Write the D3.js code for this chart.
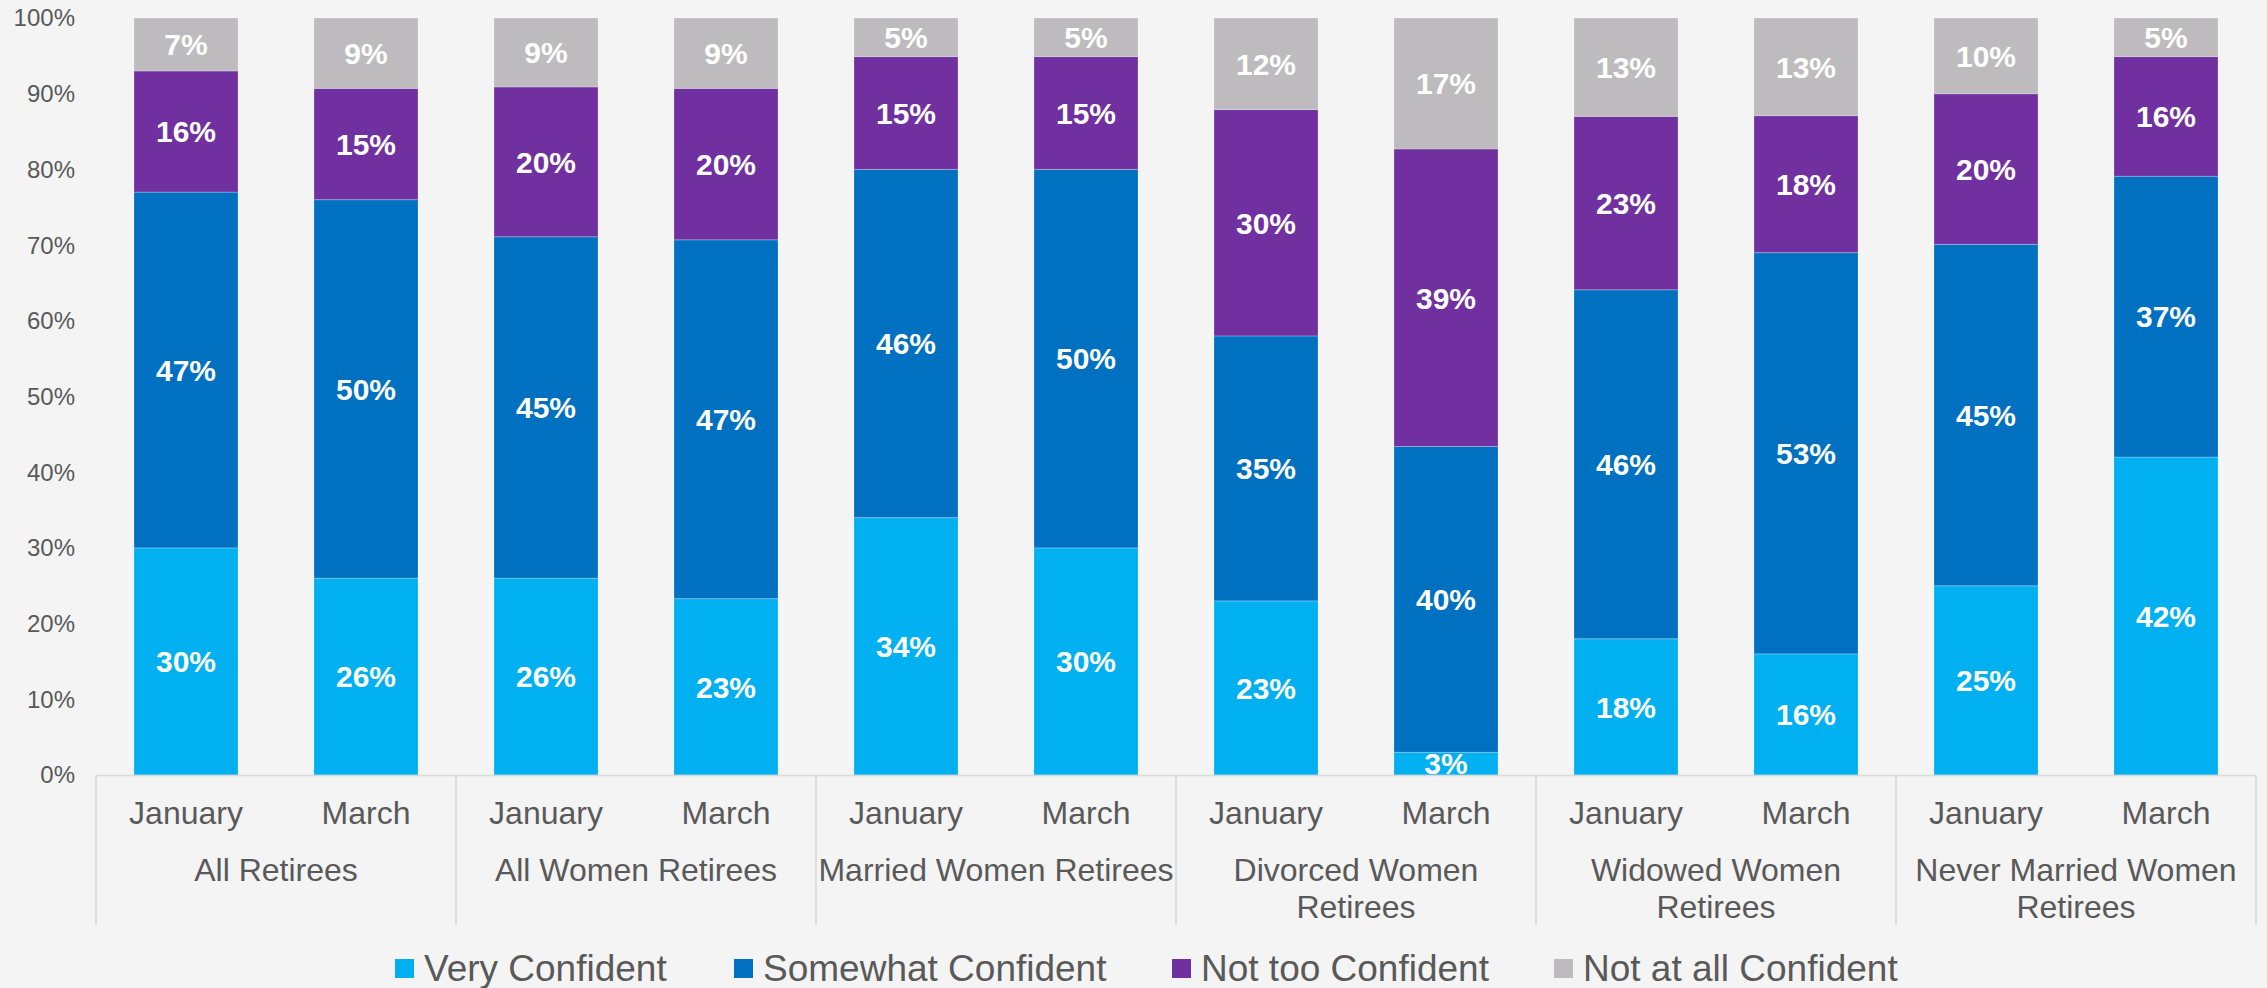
<!DOCTYPE html>
<html>
<head>
<meta charset="utf-8">
<script src="https://cdn.jsdelivr.net/npm/d3@7"></script>
<style>
  html, body { margin: 0; padding: 0; background: #F4F4F4; }
  svg { display: block; font-family: "Liberation Sans", Arial, sans-serif; }
</style>
</head>
<body>
<svg id="chart" width="2267" height="988"></svg>
<script>
// ---- Data ----
const groups = [
  ["All Retirees"],
  ["All Women Retirees"],
  ["Married Women Retirees"],
  ["Divorced Women", "Retirees"],
  ["Widowed Women", "Retirees"],
  ["Never Married Women", "Retirees"]
];
const months = ["January", "March"];
const seriesNames = ["Very Confident", "Somewhat Confident", "Not too Confident", "Not at all Confident"];
const seriesColors = ["#00B0F0", "#0070C0", "#7030A0", "#BDBBBE"];
// values in %, order: [group][month] flattened (12 bars)
const veryConfident     = [30, 26, 26, 23.3, 34, 30, 23.0, 3.0, 18.0, 16.0, 25.0, 42.0];
const somewhatConfident = [47, 50, 45.1, 47.4, 46, 50, 35.0, 40.4, 46.1, 53.0, 45.1, 37.1];
const notTooConfident   = [16, 14.7, 19.8, 20.0, 14.9, 14.9, 29.9, 39.3, 22.9, 18.1, 19.9, 15.8];
const notAtAllConfident = [7, 9.3, 9.1, 9.3, 5.1, 5.1, 12.1, 17.3, 13.0, 12.9, 10.0, 5.1];
const yTicks = [0, 10, 20, 30, 40, 50, 60, 70, 80, 90, 100];

(function () {
// ---- Layout ----
const svg = d3.select("#chart");
const left = 96, right = 2256, plotTop = 18, bottom = 775;
const textColor = "#595959";
const axisColor = "#D9D9D9";

const groupKeys = groups.map(g => g.join(" "));
const x0 = d3.scaleBand().domain(groupKeys).range([left, right]).padding(0);
const x1 = d3.scaleBand().domain(months).range([0, x0.bandwidth()]).paddingInner(0.422).paddingOuter(0.211);
const y = d3.scaleLinear().domain([0, 100]).range([bottom, plotTop]);

// rows
const rows = [];
groups.forEach((g, gi) => {
  months.forEach((m, mi) => {
    const i = gi * 2 + mi;
    rows.push({
      group: groupKeys[gi], month: m,
      "Very Confident": veryConfident[i],
      "Somewhat Confident": somewhatConfident[i],
      "Not too Confident": notTooConfident[i],
      "Not at all Confident": notAtAllConfident[i]
    });
  });
});
const stacked = d3.stack().keys(seriesNames)(rows);
const color = d3.scaleOrdinal().domain(seriesNames).range(seriesColors);

// y tick labels
svg.append("g").selectAll("text").data(yTicks).join("text")
  .attr("x", 75).attr("y", d => y(d)).attr("dy", "0.35em")
  .attr("text-anchor", "end")
  .attr("font-size", 24).attr("fill", textColor)
  .text(d => d + "%");

// bars
const layer = svg.append("g").selectAll("g").data(stacked).join("g")
  .attr("fill", d => color(d.key));
layer.selectAll("rect").data(d => d).join("rect")
  .attr("x", d => x0(d.data.group) + x1(d.data.month))
  .attr("width", x1.bandwidth())
  .attr("y", d => y(Math.min(d[1], 100)))
  .attr("height", d => y(d[0]) - y(Math.min(d[1], 100)))
  .attr("stroke", "rgba(255,255,255,0.25)").attr("stroke-width", 1);

// data labels
const labels = svg.append("g");
stacked.forEach(s => {
  labels.append("g").selectAll("text").data(s).join("text")
    .attr("x", d => x0(d.data.group) + x1(d.data.month) + x1.bandwidth() / 2)
    .attr("y", d => y((d[0] + Math.min(d[1], 100)) / 2))
    .attr("dy", "0.36em")
    .attr("text-anchor", "middle")
    .attr("font-size", 30).attr("font-weight", "bold").attr("fill", "#FFFFFF")
    .text(d => Math.round(d[1] - d[0]) + "%");
});

// x axis line and group separators
const axisG = svg.append("g");
axisG.append("line")
  .attr("x1", left).attr("x2", right).attr("y1", bottom + 0.5).attr("y2", bottom + 0.5)
  .attr("stroke", axisColor).attr("stroke-width", 1.5);
const seps = groupKeys.map(g => x0(g)).concat([x0(groupKeys[groupKeys.length - 1]) + x0.bandwidth()]);
axisG.selectAll("line.sep").data(seps).join("line").attr("class", "sep")
  .attr("x1", d => d).attr("x2", d => d)
  .attr("y1", bottom).attr("y2", 925)
  .attr("stroke", axisColor).attr("stroke-width", 1.5);

// month labels
rows.forEach(r => {
  axisG.append("text")
    .attr("x", x0(r.group) + x1(r.month) + x1.bandwidth() / 2)
    .attr("y", 824)
    .attr("text-anchor", "middle")
    .attr("font-size", 32).attr("fill", textColor)
    .text(r.month);
});

// group labels
groups.forEach((g, gi) => {
  const cx = x0(groupKeys[gi]) + x0.bandwidth() / 2;
  const t = axisG.append("text")
    .attr("x", cx).attr("y", 881)
    .attr("text-anchor", "middle")
    .attr("font-size", 32).attr("fill", textColor);
  g.forEach((line, li) => {
    t.append("tspan").attr("x", cx).attr("y", 881 + li * 37).text(line);
  });
});

// legend
const legendX = [395, 734, 1172, 1554];
const legend = svg.append("g");
seriesNames.forEach((s, i) => {
  legend.append("rect").attr("x", legendX[i]).attr("y", 959).attr("width", 19).attr("height", 19)
    .attr("fill", seriesColors[i]);
  legend.append("text").attr("x", legendX[i] + 29).attr("y", 981)
    .attr("font-size", 37).attr("fill", textColor).text(s);
});
})();
</script>
</body>
</html>
